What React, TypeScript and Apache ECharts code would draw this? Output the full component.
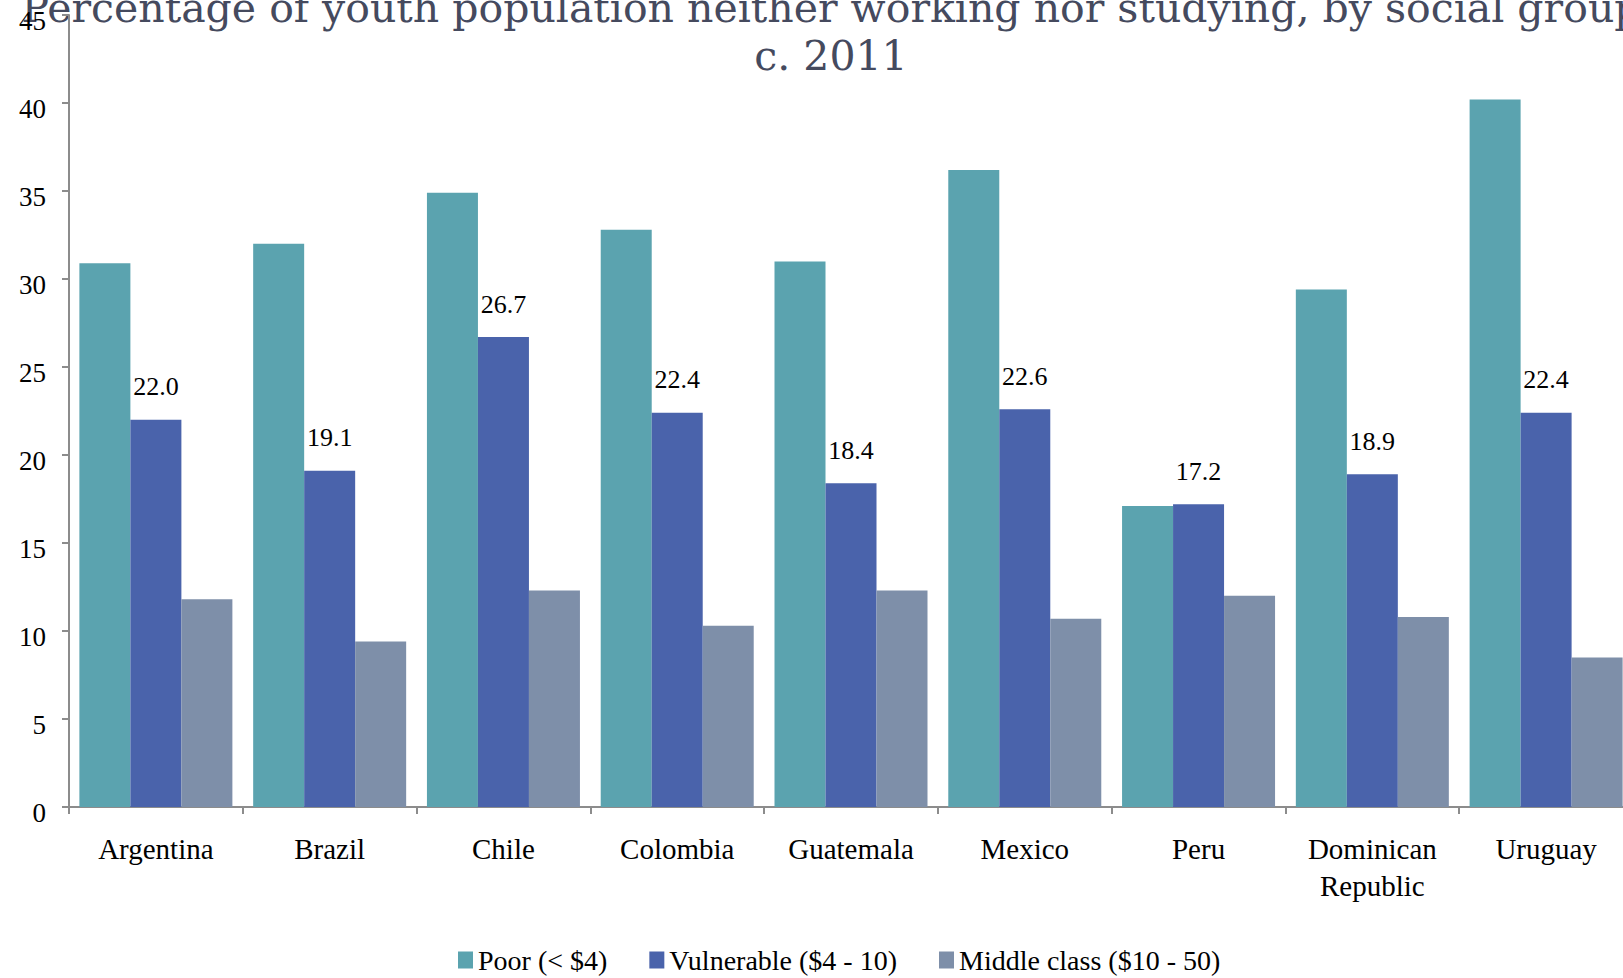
import React, { useEffect, useRef } from "react";
import * as echarts from "echarts";

const titleLine1 = "Percentage of youth population neither working nor studying, by social group";
const titleLine2 = "c. 2011";
const categories = ["Argentina", "Brazil", "Chile", "Colombia", "Guatemala", "Mexico", "Peru", "Dominican\nRepublic", "Uruguay"];
const seriesNames = ["Poor (< $4)", "Vulnerable ($4 - 10)", "Middle class ($10 - 50)"];
const poor = [30.9, 32.0, 34.9, 32.8, 31.0, 36.2, 17.1, 29.4, 40.2];
const vulnerable = [22.0, 19.1, 26.7, 22.4, 18.4, 22.6, 17.2, 18.9, 22.4];
const middle = [11.8, 9.4, 12.3, 10.3, 12.3, 10.7, 12.0, 10.8, 8.5];
const colors = ["#5BA3AF", "#4A63AB", "#7E8FA9"];

export default function App() {
  const ref = useRef<HTMLDivElement>(null);
  useEffect(() => {
    document.body.style.margin = "0";
    document.body.style.overflow = "hidden";
    document.documentElement.style.overflow = "hidden";
    const chart = echarts.init(ref.current!, undefined, { renderer: "svg" });
    const serif = "Liberation Serif";
    const axisGray = "#8C8C8C";
    const titleStyle = {
      fontFamily: "DejaVu Serif",
      fontSize: 41,
      fill: "#454A5E",
      textAlign: "center",
      textVerticalAlign: "middle",
      align: "center",
      verticalAlign: "middle",
    };
    chart.setOption({
      animation: false,
      backgroundColor: "#ffffff",
      color: colors,
      graphic: [
        { type: "text", z: -1, x: 831, y: 8, style: { ...titleStyle, text: titleLine1 } },
        { type: "text", z: -1, x: 831, y: 56, style: { ...titleStyle, text: titleLine2 } },
      ],
      legend: {
        data: seriesNames,
        left: 458,
        top: 946,
        padding: 0,
        itemWidth: 15,
        itemHeight: 17,
        itemGap: 42,
        icon: "rect",
        textStyle: { fontFamily: serif, fontSize: 28, color: "#000" },
      },
      grid: { left: 69, right: 0, top: 15, bottom: 171, containLabel: false },
      xAxis: {
        type: "category",
        data: categories,
        axisLine: { lineStyle: { color: axisGray, width: 2 } },
        axisTick: { show: true, length: 7, lineStyle: { color: axisGray, width: 2 } },
        axisLabel: {
          interval: 0,
          margin: 23,
          fontFamily: serif,
          fontSize: 29,
          lineHeight: 37,
          color: "#000",
        },
      },
      yAxis: {
        type: "value",
        min: 0,
        max: 45,
        interval: 5,
        splitLine: { show: false },
        axisLine: { show: true, lineStyle: { color: axisGray, width: 2 } },
        axisTick: { show: true, length: 7, lineStyle: { color: axisGray, width: 2 } },
        axisLabel: {
          margin: 23,
          fontFamily: serif,
          fontSize: 27,
          color: "#000",
          backgroundColor: "transparent",
          verticalAlign: "top",
          lineHeight: 11,
        },
      },
      series: [
        { name: seriesNames[0], type: "bar", data: poor, barWidth: 51, barGap: "0%" },
        {
          name: seriesNames[1],
          type: "bar",
          data: vulnerable,
          barWidth: 51,
          barGap: "0%",
          label: {
            show: true,
            position: "top",
            distance: 20,
            fontFamily: serif,
            fontSize: 26,
            color: "#000",
            formatter: (p: any) => Number(p.value).toFixed(1),
          },
        },
        { name: seriesNames[2], type: "bar", data: middle, barWidth: 51, barGap: "0%" },
      ],
    });
    return () => chart.dispose();
  }, []);
  return <div ref={ref} style={{ position: "absolute", left: 0, top: 0, width: 1633, height: 978 }} />;
}
